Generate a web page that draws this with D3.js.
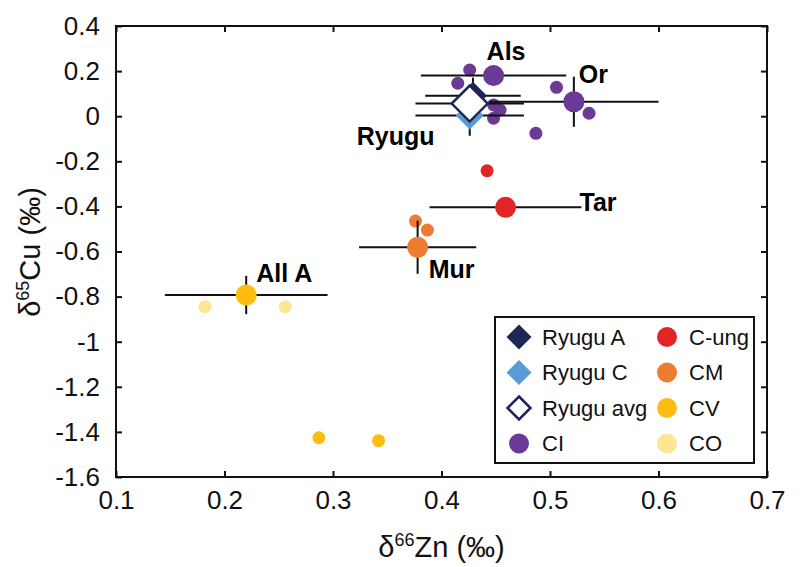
<!DOCTYPE html>
<html>
<head>
<meta charset="utf-8">
<script src="https://cdn.jsdelivr.net/npm/d3@7"></script>
<style>
  body { margin: 0; background: #fff; }
  svg text { font-family: "Liberation Sans", Arial, Helvetica, sans-serif; }
</style>
</head>
<body>
<svg id="chart" width="800" height="567"></svg>
<script>
// delta66Zn (x) vs delta65Cu (y), per mil
const xTicks = [0.1, 0.2, 0.3, 0.4, 0.5, 0.6, 0.7];
const yTicks = [0.4, 0.2, 0, -0.2, -0.4, -0.6, -0.8, -1, -1.2, -1.4, -1.6];

// Ryugu samples: [x, y, xErr, yErr]
const ryuguA = [[0.429, 0.091, 0.044, 0.08]];
const ryuguC = [[0.426, 0.003, 0.050, 0.09]];
const ryuguAvg = [[0.426, 0.056, 0.050, 0]];

// single measurements (small dots): [x, y]
const ciDots = [[0.426, 0.205], [0.415, 0.146], [0.506, 0.128], [0.536, 0.013],
                [0.448, 0.050], [0.454, 0.027], [0.448, -0.009], [0.487, -0.076]];
const cungDots = [[0.442, -0.242]];
const cmDots = [[0.376, -0.465], [0.387, -0.505]];
const cvDots = [[0.287, -1.426], [0.342, -1.439]];
const coDots = [[0.182, -0.845], [0.256, -0.845]];

// named meteorites (large dots with error bars): [name, group, x, y, xErr, yErr]
const namedMeteorites = [
  ["Als", "CI", 0.448, 0.180, 0.067, 0],
  ["Or", "CI", 0.522, 0.064, 0.078, 0.111],
  ["Tar", "C-ung", 0.459, -0.404, 0.070, 0],
  ["Mur", "CM", 0.378, -0.581, 0.054, 0.118],
  ["All A", "CV", 0.220, -0.793, 0.075, 0.085]
];

const legendCol1 = ["Ryugu A", "Ryugu C", "Ryugu avg", "CI"];
const legendCol2 = ["C-ung", "CM", "CV", "CO"];

const color = {
  "Ryugu A": "#1d2757",
  "Ryugu C": "#5b9bd5",
  "Ryugu avg": "#1d2757",
  "CI": "#6b3a97",
  "C-ung": "#e32424",
  "CM": "#ee7c30",
  "CV": "#fdbd10",
  "CO": "#fee596"
};

const svg = d3.select("#chart");
const plotLeft = 116, plotRight = 767, plotTop = 26, plotBottom = 477;

const x = d3.scaleLinear().domain([0.1, 0.7]).range([plotLeft, plotRight]);
const y = d3.scaleLinear().domain([-1.6, 0.4]).range([plotBottom, plotTop]);

const diamond = half => `M0,${-half}L${half},0L0,${half}L${-half},0Z`;

// small dots
const dotGroups = [["CI", ciDots], ["C-ung", cungDots], ["CM", cmDots], ["CV", cvDots], ["CO", coDots]];
dotGroups.forEach(([grp, pts]) => {
  svg.append("g").selectAll("circle")
    .data(pts)
    .enter().append("circle")
    .attr("cx", d => x(d[0]))
    .attr("cy", d => y(d[1]))
    .attr("r", 6.5)
    .attr("fill", color[grp]);
});

// error bars
const bars = [
  ...namedMeteorites.map(d => [d[2], d[3], d[4], d[5]]),
  ...ryuguA, ...ryuguC, ...ryuguAvg
];
const barG = svg.append("g").attr("stroke", "#111").attr("stroke-width", 2);
barG.selectAll(".xbar")
  .data(bars.filter(d => d[2] > 0))
  .enter().append("line")
  .attr("x1", d => x(d[0] - d[2]))
  .attr("x2", d => x(d[0] + d[2]))
  .attr("y1", d => y(d[1]))
  .attr("y2", d => y(d[1]));
barG.selectAll(".ybar")
  .data(bars.filter(d => d[3] > 0))
  .enter().append("line")
  .attr("x1", d => x(d[0]))
  .attr("x2", d => x(d[0]))
  .attr("y1", d => y(d[1] - d[3]))
  .attr("y2", d => y(d[1] + d[3]));

// big dots
svg.append("g").selectAll("circle")
  .data(namedMeteorites)
  .enter().append("circle")
  .attr("cx", d => x(d[2]))
  .attr("cy", d => y(d[3]))
  .attr("r", 10.5)
  .attr("fill", d => color[d[1]]);

// Ryugu diamonds
[["Ryugu A", ryuguA], ["Ryugu C", ryuguC]].forEach(([name, pts]) => {
  svg.append("g").selectAll("path")
    .data(pts)
    .enter().append("path")
    .attr("d", diamond(14))
    .attr("transform", d => `translate(${x(d[0])},${y(d[1])})`)
    .attr("fill", color[name]);
});
svg.append("g").selectAll("path")
  .data(ryuguAvg)
  .enter().append("path")
  .attr("d", diamond(18))
  .attr("transform", d => `translate(${x(d[0])},${y(d[1])})`)
  .attr("fill", "#fff")
  .attr("stroke", color["Ryugu avg"])
  .attr("stroke-width", 2.5);

// labels (offsets in px from the point)
const labelOffset = {
  "Als": [-7, -16], "Or": [5, -19], "Tar": [74, 4], "Mur": [11, 31], "All A": [10, -13]
};
svg.append("g").selectAll("text")
  .data(namedMeteorites)
  .enter().append("text")
  .attr("x", d => x(d[2]) + labelOffset[d[0]][0])
  .attr("y", d => y(d[3]) + labelOffset[d[0]][1])
  .attr("font-size", 25)
  .attr("font-weight", "bold")
  .text(d => d[0]);
svg.append("text")
  .attr("x", x(ryuguAvg[0][0]) - 113)
  .attr("y", y(ryuguAvg[0][1]) + 41)
  .attr("font-size", 25)
  .attr("font-weight", "bold")
  .text("Ryugu");

// axes with inward ticks
const fmt = d => String(+d.toFixed(1));
svg.append("g")
  .attr("transform", `translate(0,${plotBottom})`)
  .call(d3.axisBottom(x).tickValues(xTicks).tickSize(-6).tickPadding(14).tickFormat(fmt))
  .call(g => g.selectAll("text").attr("font-size", 26).attr("fill", "#111"));
svg.append("g")
  .attr("transform", `translate(0,${plotTop})`)
  .call(d3.axisTop(x).tickValues(xTicks).tickSize(-6).tickFormat(""));
svg.append("g")
  .attr("transform", `translate(${plotLeft},0)`)
  .call(d3.axisLeft(y).tickValues(yTicks).tickSize(-6).tickPadding(16).tickFormat(fmt))
  .call(g => g.selectAll("text").attr("font-size", 26).attr("fill", "#111"));
svg.append("g")
  .attr("transform", `translate(${plotRight},0)`)
  .call(d3.axisRight(y).tickValues(yTicks).tickSize(-6).tickFormat(""));
svg.selectAll(".domain").remove();
svg.selectAll(".tick line").attr("stroke", "#111").attr("stroke-width", 2);
svg.selectAll(".tick text").attr("font-family", "Liberation Sans, Arial, sans-serif");

svg.append("rect")
  .attr("x", plotLeft).attr("y", plotTop)
  .attr("width", plotRight - plotLeft).attr("height", plotBottom - plotTop)
  .attr("fill", "none").attr("stroke", "#111").attr("stroke-width", 2);

// axis titles
const xt = svg.append("text")
  .attr("x", (plotLeft + plotRight) / 2).attr("y", 557)
  .attr("text-anchor", "middle").attr("font-size", 29).attr("fill", "#111");
xt.append("tspan").text("δ");
xt.append("tspan").attr("font-size", 18).attr("dy", -11).text("66");
xt.append("tspan").attr("dy", 11).text("Zn (‰)");

const yt = svg.append("text")
  .attr("transform", "translate(40,252) rotate(-90)")
  .attr("text-anchor", "middle").attr("font-size", 29).attr("fill", "#111");
yt.append("tspan").text("δ");
yt.append("tspan").attr("font-size", 18).attr("dy", -11).text("65");
yt.append("tspan").attr("dy", 11).text("Cu (‰)");

// legend
const lg = svg.append("g");
lg.append("rect")
  .attr("x", 495).attr("y", 317).attr("width", 259).attr("height", 146)
  .attr("fill", "#fff").attr("stroke", "#111").attr("stroke-width", 2);
const rowY = i => 337 + i * 35.5;
legendCol1.forEach((name, i) => {
  if (name === "CI") {
    lg.append("circle").attr("cx", 519).attr("cy", rowY(i)).attr("r", 10).attr("fill", color[name]);
  } else if (name === "Ryugu avg") {
    lg.append("path").attr("d", diamond(11.5))
      .attr("transform", `translate(519,${rowY(i)})`)
      .attr("fill", "#fff").attr("stroke", color[name]).attr("stroke-width", 2.5);
  } else {
    lg.append("path").attr("d", diamond(12.5))
      .attr("transform", `translate(519,${rowY(i)})`)
      .attr("fill", color[name]);
  }
  lg.append("text").attr("x", 542).attr("y", rowY(i)).attr("dy", "0.36em")
    .attr("font-size", 22).attr("fill", "#111").text(name);
});
legendCol2.forEach((name, i) => {
  lg.append("circle").attr("cx", 667).attr("cy", rowY(i)).attr("r", 10).attr("fill", color[name]);
  lg.append("text").attr("x", 689).attr("y", rowY(i)).attr("dy", "0.36em")
    .attr("font-size", 22).attr("fill", "#111").text(name);
});
</script>
</body>
</html>
